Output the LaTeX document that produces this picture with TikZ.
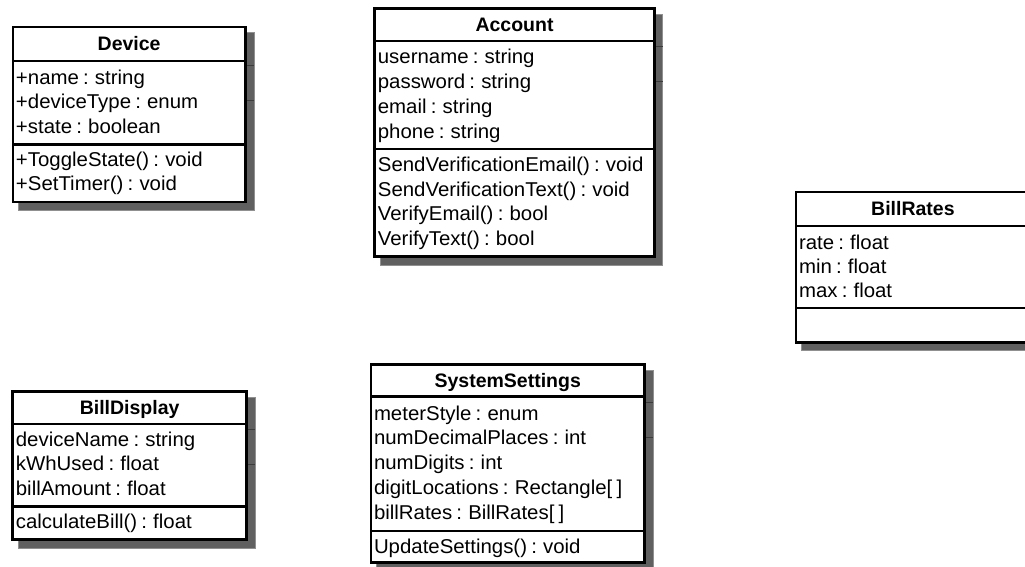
\documentclass[tikz,border=0pt]{standalone}
\usepackage{fontspec}
\setmainfont{Liberation Sans}
\newfontfamily\clsfont[FakeStretch=1.02, WordSpace=0.75]{Liberation Sans}
\definecolor{shadowgray}{RGB}{96,96,96}
\definecolor{shadowline}{RGB}{60,60,60}
\tikzset{
  clsframe/.style={draw=black, line width=2.6pt, fill=white},
  clsrule/.style={draw=black, line width=2.4pt},
  clsshadow/.style={fill=shadowgray, draw=shadowgray!70!white, line width=0.6pt},
  clsstripe/.style={draw=shadowline, line width=0.8pt},
  clstitle/.style={font=\fontsize{19.5}{23}\selectfont\bfseries, inner sep=0pt, anchor=base},
  clstext/.style={font=\clsfont\fontsize{20}{24}\selectfont, inner sep=0pt, anchor=base west},
}
% #1 id, #2 left, #3 right, #4 top, #5 header rule, #6 section rule, #7 bottom, #8 title
\newcommand\umlclass[8]{%
  \fill[clsshadow] (#2+5.7,#4+5.7) rectangle (#3+8.3,#7+8.3);
  \draw[clsstripe] (#3+1.3,#4+38) -- (#3+8.3,#4+38);
  \draw[clsstripe] (#3+1.3,#4+73) -- (#3+8.3,#4+73);
  \draw[clsframe] (#2,#4) rectangle (#3,#7);
  \draw[clsrule] (#2,#5) -- (#3,#5);
  \draw[clsrule] (#2,#6) -- (#3,#6);
  \node[clstitle] (#1-title) at ({(#2+#3)/2},{(#4+#5)/2+6.5}) {#8};
}
% #1 id prefix, #2 left, #3 first baseline, #4 step, #5 lines
\newcommand\umllines[5]{%
  \foreach \t [count=\i from 0] in {#5} {
    \node[clstext] (#1-\i) at (#2+3,{#3+#4*\i}) {\t};
  }
}
\begin{document}
\begin{tikzpicture}[x=1pt, y=-1pt]
  \useasboundingbox (0,0) rectangle (1025,567);
  \clip (0,0) rectangle (1025,567);
  \fill[white] (0,0) rectangle (1025,567);

  % Device
  \umlclass{device}{12.8}{245.5}{27}{61.3}{144.5}{201.8}{Device}
  \umllines{device-attr}{12.8}{84.3}{24.5}{{+name : string},{+deviceType : enum},{+state : boolean}}
  \umllines{device-op}{12.8}{166.7}{24}{{+ToggleState() : void},{+SetTimer() : void}}

  % Account
  \umlclass{account}{374.7}{654.3}{8.7}{41.3}{149.2}{256.7}{Account}
  \umllines{account-attr}{374.7}{64}{24.8}{{username : string},{password : string},{email : string},{phone : string}}
  \umllines{account-op}{374.7}{171.7}{24.5}{{SendVerificationEmail() : void},{SendVerificationText() : void},{VerifyEmail() : bool},{VerifyText() : bool}}

  % BillRates
  \umlclass{billrates}{795.8}{1030}{192}{225.7}{308}{342.3}{BillRates}
  \umllines{billrates-attr}{795.8}{249}{24.4}{{rate : float},{min : float},{max : float}}

  % BillDisplay
  \umlclass{billdisplay}{12.7}{246.5}{391.3}{423.7}{506.3}{539.7}{BillDisplay}
  \umllines{billdisplay-attr}{12.7}{446.7}{24.2}{{deviceName : string},{kWhUsed : float},{billAmount : float}}
  \umllines{billdisplay-op}{12.7}{528.3}{24}{{calculateBill() : float}}

  % SystemSettings
  \umlclass{systemsettings}{370.8}{644.7}{364.7}{396.3}{530.7}{562.3}{SystemSettings}
  \umllines{systemsettings-attr}{370.8}{420}{24.8}{{meterStyle : enum},{numDecimalPlaces : int},{numDigits : int},{digitLocations : Rectangle[ ]},{billRates : BillRates[ ]}}
  \umllines{systemsettings-op}{370.8}{553.3}{24}{{UpdateSettings() : void}}
\end{tikzpicture}
\end{document}
